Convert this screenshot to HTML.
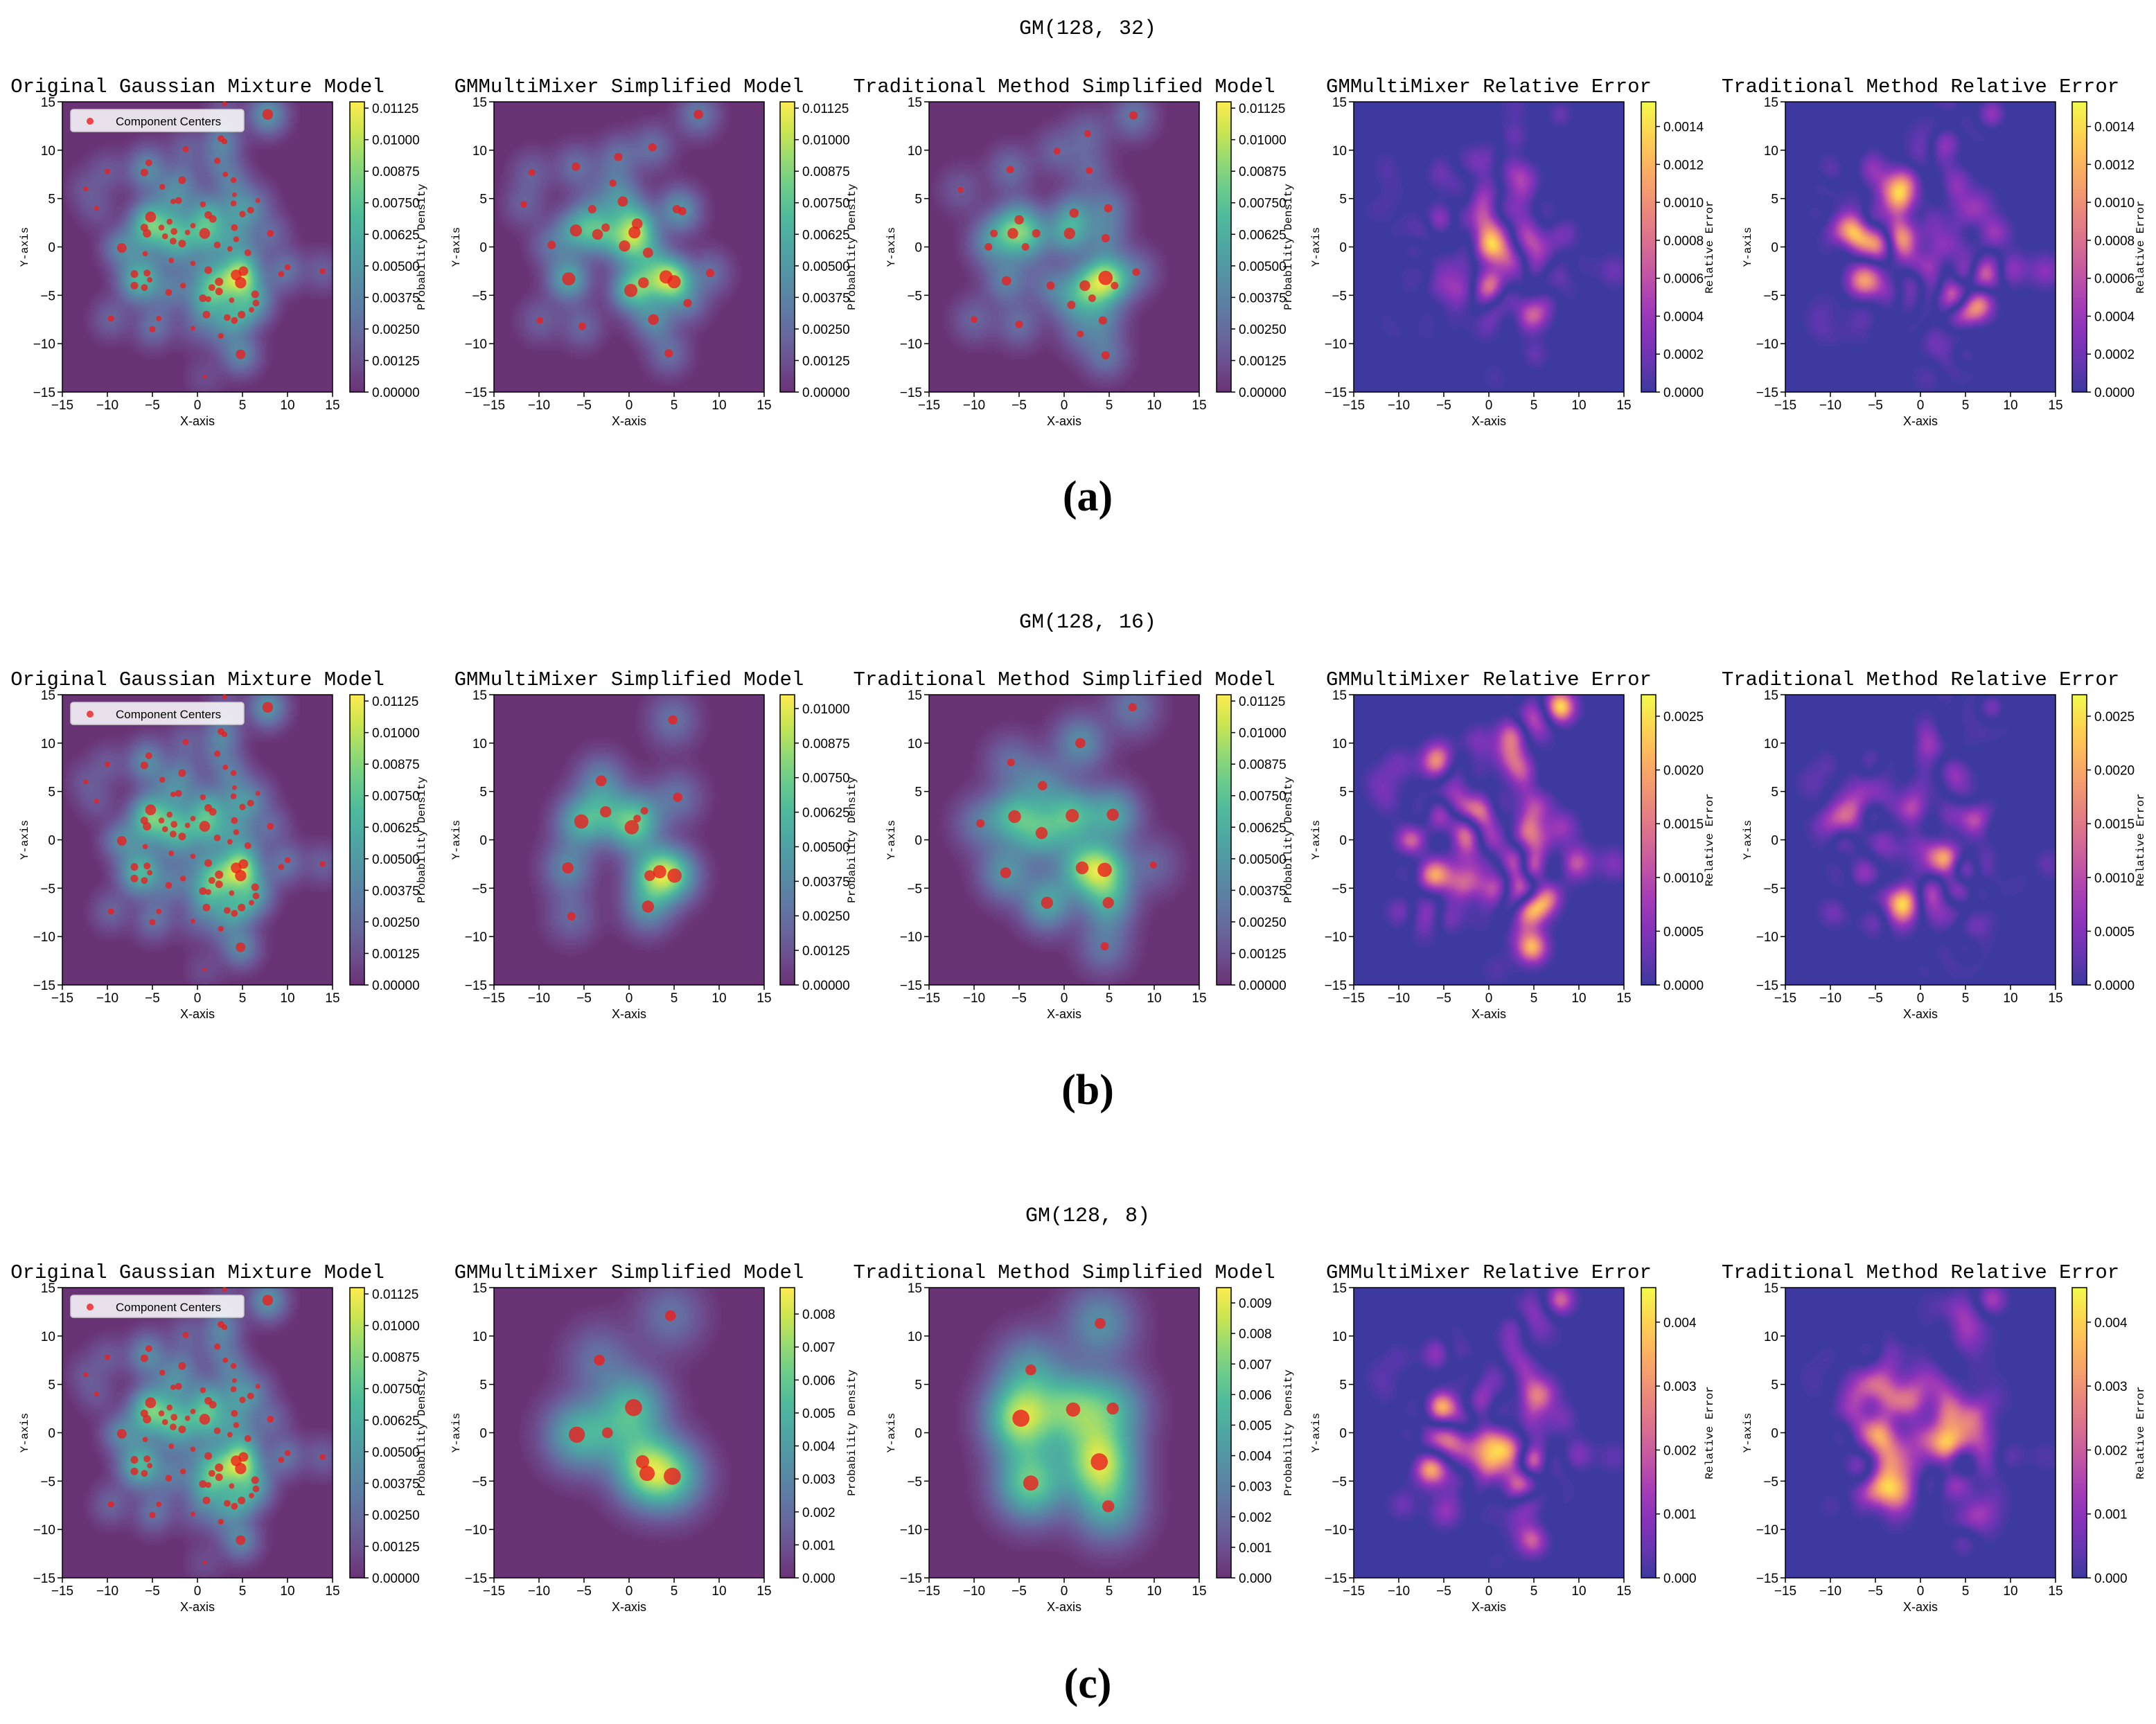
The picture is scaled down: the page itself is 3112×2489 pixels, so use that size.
<!DOCTYPE html>
<html><head><meta charset="utf-8">
<style>
html,body{margin:0;padding:0;background:#fff;}
#wrap{position:relative;width:3112px;height:2489px;overflow:hidden;background:#fff;}
canvas.f{position:absolute;}
svg{position:absolute;left:0;top:0;}
</style></head>
<body>
<div id="wrap">
<svg id="ov" width="3112" height="2489"></svg>
</div>
<script>
// ---------- DATA ----------
const ORIG_X=[7.8,3,2.6,3,-1.3,-5.4,-5.9,-10,-12.4,-11.2,-1.7,2.2,3.1,4,-3.9,-2.1,-2.7,0.6,4.1,4,5.9,5,6.7,1.2,1.7,4.1,-5.2,-5.9,-5.6,-4,-3.1,-3.6,-2.7,-2.6,-1.7,-1.1,0.8,-0.5,2.2,4.3,8.1,5.6,3.6,-8.4,-5.8,-2.9,-0.5,1.2,4.3,5.1,4.8,-7,-5.6,-7,-5.9,-5.3,-1.6,-3.2,2.4,2.4,1.6,0.6,1.2,6.4,6.5,6,3.8,1,3.3,4.1,4.9,-9.6,-5,-4.3,-0.5,2.6,4.8,0.8,9.3,10,13.9];
const ORIG_Y=[13.7,14.8,11.2,10.9,10.1,8.7,7.7,7.8,6,4,6.9,8.9,7.5,6.9,6.2,4.8,4.7,4.4,5.4,4.5,3.8,3.4,4.8,3.3,2.9,2,3.1,2,1.4,2,2.6,1.1,0.6,1.6,0.35,1.5,1.4,2.2,0.2,0.8,1.4,-0.6,-0.2,-0.1,-0.7,-1.4,-1.7,-2.4,-2.9,-2.5,-3.7,-2.8,-2.7,-4,-4.2,-3.4,-4,-4.7,-3.6,-4.6,-4.2,-5.3,-5.4,-4.9,-5.8,-6.5,-5.5,-7,-7.3,-7.6,-7,-7.4,-8.5,-7.4,-8.4,-9.2,-11.1,-13.4,-2.8,-2.1,-2.5];
const ORIG_W=[2,0.4,0.8,0.6,0.6,0.8,1,0.5,0.4,0.4,1,0.7,0.5,0.6,0.6,0.8,0.5,0.6,0.4,0.6,0.8,0.7,0.4,1,1,0.8,2,1,1.2,0.6,0.6,0.6,0.8,0.8,1,0.5,2,0.5,0.8,0.6,0.8,0.8,0.5,1.6,0.5,0.5,0.5,1,2,1.6,2.2,1,0.8,1,0.8,0.5,0.6,0.8,1.2,1,0.8,1,0.6,1,0.8,0.5,0.5,1,0.8,0.8,1,0.7,0.7,0.5,0.4,0.6,1.6,0.3,0.6,0.6,0.6];

const A_GMM_X=[7.7,2.6,-1.2,-5.9,-10.8,-11.7,-1.8,-0.7,-4.1,5.3,5.9,-5.9,-3.5,-2.6,0.9,0.6,-0.5,2.1,-8.6,4.1,5,1.6,0.2,9,6.5,-6.7,2.7,-9.9,-5.2,4.4];
const A_GMM_Y=[13.7,10.3,9.3,8.3,7.7,4.4,6.6,4.7,3.9,3.9,3.7,1.7,1.3,2,2.4,1.5,0.1,-0.6,0.2,-3.1,-3.6,-3.7,-4.5,-2.7,-5.8,-3.3,-7.5,-7.6,-8.2,-11];
const A_GMM_W=[1.5,1.2,1.2,1.2,0.8,0.8,0.9,1.8,1.2,1.2,1.2,2.5,2,1.2,2,2.5,2.2,1.8,1.2,3,3,2,3,1.2,1.2,3,2,0.8,1,1.2];

const A_TRAD_X=[7.7,2.6,-0.8,-6,2.8,-11.5,-5,-7.8,-5.7,-3.1,1.1,0.6,4.9,4.6,-4.3,-8.4,2.3,4.6,-6.4,-1.5,0.8,3.1,-5,4.3,-10,4.6,8,1.8,5.6];
const A_TRAD_Y=[13.6,11.7,9.9,8,7.9,5.9,2.8,1.4,1.4,1.4,3.5,1.4,4,0.9,0,0,-4,-3.2,-3.5,-4,-6,-5.3,-8,-7.6,-7.5,-11.2,-2.6,-9,-4];
const A_TRAD_W=[1.2,0.8,0.8,1,0.8,0.6,1.5,1,2,1.2,1.5,2.2,1.2,1.2,1,1,2,3.5,1.5,1.2,1.2,1,1,1.2,0.8,1.2,1,0.8,1];

const B_GMM_X=[4.85,-3.1,5.4,-2.6,1.7,0.9,-5.3,0.3,-6.8,2.3,3.4,5.05,2.1,-6.4];
const B_GMM_Y=[12.4,6.1,4.4,2.9,3,2.2,1.9,1.3,-2.9,-3.7,-3.3,-3.7,-6.9,-7.9];
const B_GMM_W=[1.5,2,1.5,2.2,1,1,3.5,3.5,2.2,2,3,3.5,2.5,1.2];

const B_TRAD_X=[7.6,1.8,-5.9,-2.4,-9.3,-5.5,0.9,5.4,-2.5,-6.5,2,4.5,9.9,-1.9,4.9,4.5];
const B_TRAD_Y=[13.7,10,8,5.6,1.7,2.4,2.5,2.6,0.7,-3.4,-2.9,-3.1,-2.6,-6.5,-6.5,-11];
const B_TRAD_W=[1.2,1.8,1,1.5,1.2,2.8,3,2.5,2.5,2,2.8,3.5,0.8,2.5,2.2,1.2];

const C_GMM_X=[4.6,-3.3,0.5,-5.8,-2.4,1.5,2,4.8];
const C_GMM_Y=[12.1,7.5,2.6,-0.2,0,-3,-4.2,-4.5];
const C_GMM_W=[2,2,5,4.5,2,3,4,5];

const C_TRAD_X=[4,-3.7,1,5.4,-4.8,3.9,-3.7,4.9];
const C_TRAD_Y=[11.3,6.5,2.4,2.5,1.5,-3,-5.2,-7.6];
const C_TRAD_W=[2,2,3.5,2.5,5,5,4,2.5];

const ROW_LABELS=["GM(128, 32)","GM(128, 16)","GM(128, 8)"];
const ROW_TAGS=["(a)","(b)","(c)"];
const AXIS_TICKS=[-15,-10,-5,0,5,10,15];
const DENS_TICKS_A=[0,0.00125,0.0025,0.00375,0.005,0.00625,0.0075,0.00875,0.01,0.01125];
const DENS_TICKS_B2=[0,0.00125,0.0025,0.00375,0.005,0.00625,0.0075,0.00875,0.01];
const DENS_TICKS_C2=[0,0.001,0.002,0.003,0.004,0.005,0.006,0.007,0.008];
const DENS_TICKS_C3=[0,0.001,0.002,0.003,0.004,0.005,0.006,0.007,0.008,0.009];
const ERR_TICKS_A=[0,0.0002,0.0004,0.0006,0.0008,0.001,0.0012,0.0014];
const ERR_TICKS_B=[0,0.0005,0.001,0.0015,0.002,0.0025];
const ERR_TICKS_C=[0,0.001,0.002,0.003,0.004];

// ---------- LAYOUT ----------
const COLS=[{ax:90,cb:505},{ax:713,cb:1126},{ax:1341,cb:1756},{ax:1954,cb:2369},{ax:2577,cb:2991}];
const AXW=390, AXH=419, CBW=21;
const ROWTOP=[147,1003,1859];
const SVGNS="http://www.w3.org/2000/svg";
const ov=document.getElementById('ov');
const wrap=document.getElementById('wrap');

const VIR=["#440154","#482475","#414487","#355f8d","#2a788e","#21918c","#22a884","#44bf70","#7ad151","#bddf26","#fde725"];
const PLA=["#0d0887","#41049d","#6a00a8","#8f0da4","#b12a90","#cc4778","#e16462","#f2844b","#fca636","#fcce25","#f0f921"];
function hex(h){return [parseInt(h.substr(1,2),16),parseInt(h.substr(3,2),16),parseInt(h.substr(5,2),16)];}
const VIRC=VIR.map(hex), PLAC=PLA.map(hex);
function cmap(c,t){t=Math.max(0,Math.min(1,t));const s=t*10;const i=Math.min(9,Math.floor(s));const f=s-i;
  const a=c[i],b=c[i+1];const r=[0,1,2].map(k=>a[k]+(b[k]-a[k])*f);
  return r.map(v=>v*0.8+255*0.2);}

function mk(tag,attrs,parent){const e=document.createElementNS(SVGNS,tag);for(const k in attrs)e.setAttribute(k,attrs[k]);(parent||ov).appendChild(e);return e;}
function txt(s,x,y,size,fam,anchor,extra){const e=mk('text',Object.assign({x:x,y:y,'font-size':size,'font-family':fam,'text-anchor':anchor||'middle',fill:'#000'},extra||{}));e.textContent=s;return e;}
const NARROW='"Liberation Sans Narrow","Liberation Sans",sans-serif';
const MONO='"Liberation Mono",monospace';

const GW=130, GH=140;
function field(X,Y,W,sig){
  const f=new Float32Array(GW*GH);let mx=0;
  for(let j=0;j<GH;j++){const yv=15-30*(j+0.5)/GH;
    for(let i=0;i<GW;i++){const xv=-15+30*(i+0.5)/GW;let s=0;
      for(let k=0;k<X.length;k++){const dx=xv-X[k],dy=yv-Y[k];s+=W[k]*Math.exp(-(dx*dx+dy*dy)/(2*sig*sig));}
      f[j*GW+i]=s;if(s>mx)mx=s;}}
  for(let i=0;i<f.length;i++)f[i]=f[i]/mx*0.97;
  return f;}
function paint(f,x,y,cm,name,gamma){
  const c=document.createElement('canvas');c.width=GW;c.height=GH;c.className='f';
  c.style.left=x+'px';c.style.top=y+'px';c.style.width=AXW+'px';c.style.height=AXH+'px';
  
  
  const ctx=c.getContext('2d');const im=ctx.createImageData(GW,GH);
  for(let p=0;p<f.length;p++){let v=Math.pow(f[p],gamma);v=v<0.025?0:Math.floor(v*50)/50;const col=cmap(cm,v);
    im.data[p*4]=col[0];im.data[p*4+1]=col[1];im.data[p*4+2]=col[2];im.data[p*4+3]=255;}
  ctx.putImageData(im,0,0);wrap.insertBefore(c,ov);}
function colorbar(x,y,cm,name){
  const c=document.createElement('canvas');c.width=1;c.height=200;c.className='f';
  c.style.left=x+'px';c.style.top=y+'px';c.style.width=CBW+'px';c.style.height=AXH+'px';
  
  
  const ctx=c.getContext('2d');for(let j=0;j<200;j++){const col=cmap(cm,1-j/199);ctx.fillStyle='rgb('+col.join(',')+')';ctx.fillRect(0,j,1,1);}
  wrap.insertBefore(c,ov);
  mk('rect',{x:x,y:y,width:CBW,height:AXH,fill:'none',stroke:'#000','stroke-width':1.5});}
function axes(x,y,title){
  mk('rect',{x:x,y:y,width:AXW,height:AXH,fill:'none',stroke:'#000','stroke-width':1.5});
  for(const t of AXIS_TICKS){const px=x+(t+15)/30*AXW;mk('line',{x1:px,y1:y+AXH,x2:px,y2:y+AXH+7,stroke:'#000','stroke-width':1.5});
    txt(String(t).replace('-','\u2212'),px,y+AXH+25,19,NARROW,'middle');
    const py=y+AXH-(t+15)/30*AXH;mk('line',{x1:x-7,y1:py,x2:x,y2:py,stroke:'#000','stroke-width':1.5});
    txt(String(t).replace('-','\u2212'),x-10,py+7,19,NARROW,'end');}
  const xl=txt('X-axis',x+AXW/2,y+AXH+48,18,NARROW,'middle');
  
  const yl=txt('Y-axis',0,0,16,MONO,'middle',{transform:'translate('+(x-50)+','+(y+AXH/2)+') rotate(-90)'});
  
  const tt=txt(title,x+AXW/2,y-14,29,MONO,'middle');
  }
function cbticks(x,y,ticks,vmax,dec,label,lblOff){
  for(const t of ticks){const py=y+AXH-t/vmax*AXH;mk('line',{x1:x+CBW,y1:py,x2:x+CBW+6,y2:py,stroke:'#000','stroke-width':1.5});
    txt(t.toFixed(dec),x+CBW+11,py+7,19,NARROW,'start');}
  const l=txt(label,0,0,16,MONO,'middle',{transform:'translate('+(x+CBW+lblOff)+','+(y+AXH/2)+') rotate(-90)'});
  }
function markers(X,Y,W,ax,ay){
  for(let k=0;k<X.length;k++){
    const c=mk('circle',{cx:ax+(X[k]+15)/30*AXW,cy:ay+AXH-(Y[k]+15)/30*AXH,r:5.5*Math.sqrt(W[k]),fill:'rgba(235,30,30,0.8)'});
    
    }}

const ORIG_F=field(ORIG_X,ORIG_Y,ORIG_W,1.3);
const ROWS=[
 {g:[A_GMM_X,A_GMM_Y,A_GMM_W],t:[A_TRAD_X,A_TRAD_Y,A_TRAD_W],sig:1.5,gt:DENS_TICKS_A,gv:0.0115,gd:5,tt:DENS_TICKS_A,tv:0.0115,td:5,et:ERR_TICKS_A,ev:0.00153,ed:4,eg:1.4},
 {g:[B_GMM_X,B_GMM_Y,B_GMM_W],t:[B_TRAD_X,B_TRAD_Y,B_TRAD_W],sig:1.8,gt:DENS_TICKS_B2,gv:0.0105,gd:5,tt:DENS_TICKS_A,tv:0.0115,td:5,et:ERR_TICKS_B,ev:0.0027,ed:4,eg:1.5},
 {g:[C_GMM_X,C_GMM_Y,C_GMM_W],t:[C_TRAD_X,C_TRAD_Y,C_TRAD_W],sig:2.4,gt:DENS_TICKS_C2,gv:0.0088,gd:3,tt:DENS_TICKS_C3,tv:0.0095,td:3,et:ERR_TICKS_C,ev:0.00454,ed:3,eg:1.6}];
const TITLES=["Original Gaussian Mixture Model","GMMultiMixer Simplified Model","Traditional Method Simplified Model","GMMultiMixer Relative Error","Traditional Method Relative Error"];

ROWS.forEach((R,r)=>{
  const y=ROWTOP[r];
  const gF=field(R.g[0],R.g[1],R.g[2],R.sig), tF=field(R.t[0],R.t[1],R.t[2],R.sig*1.05);
  function err(a,b){const e=new Float32Array(a.length);let m=0;for(let i=0;i<a.length;i++){e[i]=Math.abs(a[i]-b[i]);if(e[i]>m)m=e[i];}for(let i=0;i<e.length;i++)e[i]=e[i]/m*0.95;return e;}
  paint(ORIG_F,COLS[0].ax,y,VIRC,'original-density-map',0.75);
  paint(gF,COLS[1].ax,y,VIRC,'gmmultimixer-density-map',0.85);
  paint(tF,COLS[2].ax,y,VIRC,'traditional-density-map',0.85);
  paint(err(ORIG_F,gF),COLS[3].ax,y,PLAC,'gmmultimixer-error-map',R.eg);
  paint(err(ORIG_F,tF),COLS[4].ax,y,PLAC,'traditional-error-map',R.eg);
  for(let c=0;c<5;c++){axes(COLS[c].ax,y,TITLES[c]);colorbar(COLS[c].cb,y,c<3?VIRC:PLAC,'colorbar');}
  cbticks(COLS[0].cb,y,DENS_TICKS_A,0.0115,5,'Probability Density',87);
  cbticks(COLS[1].cb,y,R.gt,R.gv,R.gd,'Probability Density',87);
  cbticks(COLS[2].cb,y,R.tt,R.tv,R.td,'Probability Density',87);
  cbticks(COLS[3].cb,y,R.et,R.ev,R.ed,'Relative Error',82);
  cbticks(COLS[4].cb,y,R.et,R.ev,R.ed,'Relative Error',82);
  markers(ORIG_X,ORIG_Y,ORIG_W,COLS[0].ax,y);
  markers(R.g[0],R.g[1],R.g[2],COLS[1].ax,y);
  markers(R.t[0],R.t[1],R.t[2],COLS[2].ax,y);
  const lg=mk('rect',{x:102,y:y+11,width:250,height:32,rx:4,fill:'rgba(255,255,255,0.85)',stroke:'#ccc','stroke-width':1.5});
  
  mk('circle',{cx:130,cy:y+28,r:5,fill:'rgba(235,30,30,0.8)'});
  const le=txt('Component Centers',167,y+34,17,NARROW,'start');
  
  const st=txt(ROW_LABELS[r],1570,38+857*r+11,30,MONO,'middle');
  
  const tg=txt(ROW_TAGS[r],1570,717+857*r+20,62,'"Liberation Serif",serif','middle',{'font-weight':'bold'});
  
});
</script>
</body></html>
